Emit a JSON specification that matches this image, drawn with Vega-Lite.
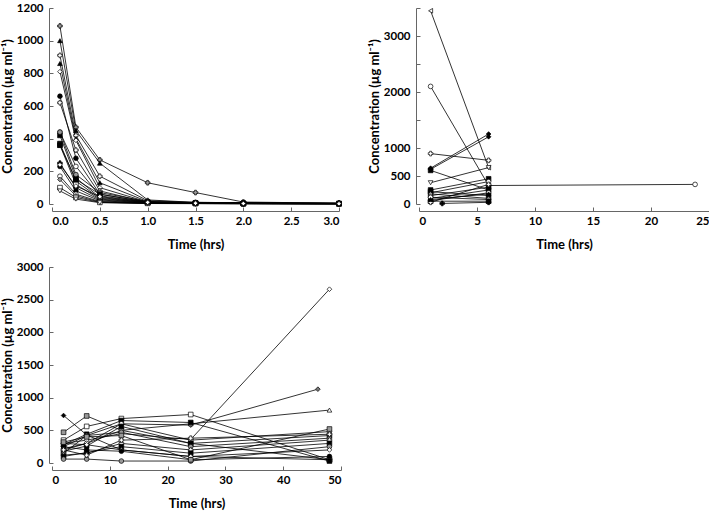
{
  "$schema": "https://vega.github.io/schema/vega-lite/v6.json",
  "padding": {"left": 1, "top": 2, "right": 2, "bottom": 1},
  "spacing": 9,
  "resolve": {"scale": {"shape": "independent", "fill": "independent"}},
  "config": {
    "font": "Lato",
    "view": {"stroke": null},
    "axis": {
      "grid": false,
      "labelFont": "Lato",
      "labelFontWeight": "bold",
      "labelFontSize": 11.5,
      "labelColor": "black",
      "titleFont": "Lato",
      "titleFontWeight": "bold",
      "titleFontSize": 13,
      "titleColor": "black",
      "domainColor": "#666",
      "tickColor": "#666",
      "tickSize": -4,
      "format": "d"
    },
    "axisX": {"titlePadding": 12, "labelPadding": 8},
    "axisY": {"titlePadding": 2, "labelPadding": 10}
  },
  "datasets": {
    "p1": [
      {"id":"S01","t":0.083,"c":1090},{"id":"S01","t":0.25,"c":470},{"id":"S01","t":0.5,"c":270},{"id":"S01","t":1,"c":130},{"id":"S01","t":1.5,"c":70},{"id":"S01","t":2,"c":12},{"id":"S01","t":3,"c":5},
      {"id":"S02","t":0.083,"c":1000},{"id":"S02","t":0.25,"c":450},{"id":"S02","t":0.5,"c":250},{"id":"S02","t":1,"c":25},{"id":"S02","t":1.5,"c":10},{"id":"S02","t":2,"c":8},{"id":"S02","t":3,"c":5},
      {"id":"S03","t":0.083,"c":910},{"id":"S03","t":0.25,"c":420},{"id":"S03","t":0.5,"c":170},{"id":"S03","t":1,"c":20},{"id":"S03","t":1.5,"c":10},{"id":"S03","t":2,"c":8},{"id":"S03","t":3,"c":5},
      {"id":"S04","t":0.083,"c":860},{"id":"S04","t":0.25,"c":400},{"id":"S04","t":0.5,"c":130},{"id":"S04","t":1,"c":15},{"id":"S04","t":1.5,"c":8},{"id":"S04","t":2,"c":5},{"id":"S04","t":3,"c":4},
      {"id":"S05","t":0.083,"c":810},{"id":"S05","t":0.25,"c":390},{"id":"S05","t":0.5,"c":100},{"id":"S05","t":1,"c":12},{"id":"S05","t":1.5,"c":8},{"id":"S05","t":2,"c":5},{"id":"S05","t":3,"c":3},
      {"id":"S06","t":0.083,"c":660},{"id":"S06","t":0.25,"c":280},{"id":"S06","t":0.5,"c":60},{"id":"S06","t":1,"c":10},{"id":"S06","t":1.5,"c":6},{"id":"S06","t":2,"c":4},{"id":"S06","t":3,"c":3},
      {"id":"S07","t":0.083,"c":620},{"id":"S07","t":0.25,"c":330},{"id":"S07","t":0.5,"c":80},{"id":"S07","t":1,"c":10},{"id":"S07","t":1.5,"c":6},{"id":"S07","t":2,"c":4},{"id":"S07","t":3,"c":3},
      {"id":"S08","t":0.083,"c":440},{"id":"S08","t":0.25,"c":230},{"id":"S08","t":0.5,"c":50},{"id":"S08","t":1,"c":10},{"id":"S08","t":1.5,"c":5},{"id":"S08","t":2,"c":4},{"id":"S08","t":3,"c":3},
      {"id":"S09","t":0.083,"c":420},{"id":"S09","t":0.25,"c":160},{"id":"S09","t":0.5,"c":40},{"id":"S09","t":1,"c":8},{"id":"S09","t":1.5,"c":5},{"id":"S09","t":2,"c":3},{"id":"S09","t":3,"c":2},
      {"id":"S10","t":0.083,"c":370},{"id":"S10","t":0.25,"c":140},{"id":"S10","t":0.5,"c":35},{"id":"S10","t":1,"c":8},{"id":"S10","t":1.5,"c":5},{"id":"S10","t":2,"c":3},{"id":"S10","t":3,"c":2},
      {"id":"S11","t":0.083,"c":360},{"id":"S11","t":0.25,"c":120},{"id":"S11","t":0.5,"c":30},{"id":"S11","t":1,"c":7},{"id":"S11","t":1.5,"c":4},{"id":"S11","t":2,"c":3},{"id":"S11","t":3,"c":2},
      {"id":"S12","t":0.083,"c":250},{"id":"S12","t":0.25,"c":100},{"id":"S12","t":0.5,"c":25},{"id":"S12","t":1,"c":6},{"id":"S12","t":1.5,"c":4},{"id":"S12","t":2,"c":3},{"id":"S12","t":3,"c":2},
      {"id":"S13","t":0.083,"c":230},{"id":"S13","t":0.25,"c":80},{"id":"S13","t":0.5,"c":20},{"id":"S13","t":1,"c":5},{"id":"S13","t":1.5,"c":4},{"id":"S13","t":2,"c":3},{"id":"S13","t":3,"c":2},
      {"id":"S14","t":0.083,"c":170},{"id":"S14","t":0.25,"c":60},{"id":"S14","t":0.5,"c":15},{"id":"S14","t":1,"c":5},{"id":"S14","t":1.5,"c":3},{"id":"S14","t":2,"c":2},{"id":"S14","t":3,"c":2},
      {"id":"S15","t":0.083,"c":150},{"id":"S15","t":0.25,"c":50},{"id":"S15","t":0.5,"c":12},{"id":"S15","t":1,"c":4},{"id":"S15","t":1.5,"c":3},{"id":"S15","t":2,"c":2},{"id":"S15","t":3,"c":1},
      {"id":"S16","t":0.083,"c":100},{"id":"S16","t":0.25,"c":40},{"id":"S16","t":0.5,"c":10},{"id":"S16","t":1,"c":4},{"id":"S16","t":1.5,"c":3},{"id":"S16","t":2,"c":2},{"id":"S16","t":3,"c":1},
      {"id":"S17","t":0.083,"c":80},{"id":"S17","t":0.25,"c":30},{"id":"S17","t":0.5,"c":8},{"id":"S17","t":1,"c":3},{"id":"S17","t":1.5,"c":2},{"id":"S17","t":2,"c":2},{"id":"S17","t":3,"c":1},
      {"id":"S18","t":0.083,"c":440},{"id":"S18","t":0.25,"c":180},{"id":"S18","t":0.5,"c":70},{"id":"S18","t":1,"c":15},{"id":"S18","t":1.5,"c":8},{"id":"S18","t":2,"c":5},{"id":"S18","t":3,"c":3},
      {"id":"S19","t":0.083,"c":360},{"id":"S19","t":0.25,"c":150},{"id":"S19","t":0.5,"c":60},{"id":"S19","t":1,"c":12},{"id":"S19","t":1.5,"c":6},{"id":"S19","t":2,"c":4},{"id":"S19","t":3,"c":2},
      {"id":"S20","t":0.083,"c":240},{"id":"S20","t":0.25,"c":110},{"id":"S20","t":0.5,"c":45},{"id":"S20","t":1,"c":10},{"id":"S20","t":1.5,"c":5},{"id":"S20","t":2,"c":3},{"id":"S20","t":3,"c":2}
    ],
    "p2": [
      {"id":"A","t":1,"c":3450},{"id":"A","t":6,"c":650},
      {"id":"B","t":1,"c":2100},{"id":"B","t":6,"c":330},{"id":"B","t":23.8,"c":350},
      {"id":"C","t":1,"c":640},{"id":"C","t":6,"c":1250},
      {"id":"D","t":1,"c":620},{"id":"D","t":6,"c":1200},
      {"id":"E","t":1,"c":900},{"id":"E","t":6,"c":780},
      {"id":"F","t":1,"c":600},{"id":"F","t":6,"c":250},
      {"id":"G","t":1,"c":380},{"id":"G","t":6,"c":650},
      {"id":"H","t":1,"c":250},{"id":"H","t":6,"c":450},
      {"id":"I","t":1,"c":200},{"id":"I","t":6,"c":400},
      {"id":"J","t":1,"c":150},{"id":"J","t":6,"c":300},
      {"id":"K","t":1,"c":100},{"id":"K","t":6,"c":250},
      {"id":"L","t":1,"c":60},{"id":"L","t":6,"c":200},
      {"id":"M","t":1,"c":220},{"id":"M","t":6,"c":150},
      {"id":"N","t":1,"c":180},{"id":"N","t":6,"c":100},
      {"id":"O","t":1,"c":120},{"id":"O","t":6,"c":80},
      {"id":"P","t":1,"c":50},{"id":"P","t":6,"c":50},
      {"id":"Q","t":1,"c":30},{"id":"Q","t":6,"c":350},
      {"id":"R","t":1,"c":80},{"id":"R","t":6,"c":180},
      {"id":"S","t":2,"c":10},{"id":"S","t":6,"c":30}
    ],
    "p3": [
      {"id":"T01","t":2,"c":727},{"id":"T01","t":6,"c":430},{"id":"T01","t":12,"c":200},{"id":"T01","t":24,"c":100},{"id":"T01","t":48,"c":50},
      {"id":"T02","t":2,"c":300},{"id":"T02","t":6,"c":350},{"id":"T02","t":12,"c":450},{"id":"T02","t":24,"c":360},{"id":"T02","t":48,"c":2660},
      {"id":"T03","t":2,"c":250},{"id":"T03","t":6,"c":420},{"id":"T03","t":12,"c":600},{"id":"T03","t":24,"c":580},{"id":"T03","t":46,"c":1130},
      {"id":"T04","t":2,"c":200},{"id":"T04","t":6,"c":300},{"id":"T04","t":12,"c":500},{"id":"T04","t":24,"c":600},{"id":"T04","t":48,"c":810},
      {"id":"T05","t":2,"c":470},{"id":"T05","t":6,"c":720},{"id":"T05","t":12,"c":500},{"id":"T05","t":24,"c":300},{"id":"T05","t":48,"c":50},
      {"id":"T06","t":2,"c":350},{"id":"T06","t":6,"c":560},{"id":"T06","t":12,"c":680},{"id":"T06","t":24,"c":742},{"id":"T06","t":48,"c":50},
      {"id":"T07","t":2,"c":280},{"id":"T07","t":6,"c":440},{"id":"T07","t":12,"c":650},{"id":"T07","t":24,"c":620},{"id":"T07","t":48,"c":30},
      {"id":"T08","t":2,"c":220},{"id":"T08","t":6,"c":300},{"id":"T08","t":12,"c":600},{"id":"T08","t":24,"c":350},{"id":"T08","t":48,"c":480},
      {"id":"T09","t":2,"c":180},{"id":"T09","t":6,"c":260},{"id":"T09","t":12,"c":560},{"id":"T09","t":24,"c":300},{"id":"T09","t":48,"c":420},
      {"id":"T10","t":2,"c":150},{"id":"T10","t":6,"c":420},{"id":"T10","t":12,"c":470},{"id":"T10","t":24,"c":250},{"id":"T10","t":48,"c":380},
      {"id":"T11","t":2,"c":120},{"id":"T11","t":6,"c":150},{"id":"T11","t":12,"c":300},{"id":"T11","t":24,"c":200},{"id":"T11","t":48,"c":350},
      {"id":"T12","t":2,"c":100},{"id":"T12","t":6,"c":160},{"id":"T12","t":12,"c":250},{"id":"T12","t":24,"c":150},{"id":"T12","t":48,"c":300},
      {"id":"T13","t":2,"c":60},{"id":"T13","t":6,"c":60},{"id":"T13","t":12,"c":30},{"id":"T13","t":24,"c":30},{"id":"T13","t":48,"c":250},
      {"id":"T14","t":2,"c":300},{"id":"T14","t":6,"c":280},{"id":"T14","t":12,"c":200},{"id":"T14","t":24,"c":100},{"id":"T14","t":48,"c":200},
      {"id":"T15","t":2,"c":250},{"id":"T15","t":6,"c":200},{"id":"T15","t":12,"c":180},{"id":"T15","t":24,"c":50},{"id":"T15","t":48,"c":100},
      {"id":"T16","t":2,"c":320},{"id":"T16","t":6,"c":400},{"id":"T16","t":12,"c":420},{"id":"T16","t":24,"c":50},{"id":"T16","t":48,"c":520},
      {"id":"T17","t":2,"c":200},{"id":"T17","t":6,"c":120},{"id":"T17","t":12,"c":350},{"id":"T17","t":24,"c":380},{"id":"T17","t":48,"c":440}
    ]
  },
  "vconcat": [
    {
      "hconcat": [
        {
          "width": 287, "height": 196,
          "data": {"name": "p1"},
          "encoding": {
            "x": {"field": "t", "type": "quantitative", "scale": {"domain": [0, 3], "nice": false}, "axis": {"title": "Time (hrs)", "values": [0, 0.5, 1, 1.5, 2, 2.5, 3], "format": ".1f", "offset": 7}},
            "y": {"field": "c", "type": "quantitative", "scale": {"domain": [0, 1200], "nice": false}, "axis": {"title": "Concentration (µg ml⁻¹)", "values": [0, 200, 400, 600, 800, 1000, 1200], "offset": 3}}
          },
          "layer": [
            {"mark": {"type": "line", "color": "black", "strokeWidth": 0.8}, "encoding": {"detail": {"field": "id"}}},
            {"mark": {"type": "point", "filled": true, "stroke": "black", "strokeWidth": 0.7, "size": 22, "opacity": 1},
             "encoding": {
               "shape": {"field": "id", "type": "nominal", "legend": null, "scale": {"range": ["cross", "triangle-up", "cross", "triangle-up", "diamond", "circle", "cross", "circle", "square", "square", "square", "cross", "circle", "circle", "diamond", "square", "triangle-down", "circle", "square", "diamond"]}},
               "fill": {"field": "id", "type": "nominal", "legend": null, "scale": {"range": ["#999", "black", "white", "black", "white", "black", "white", "white", "black", "black", "white", "black", "black", "white", "#999", "white", "white", "#999", "black", "white"]}}
             }}
          ]
        },
        {
          "width": 290, "height": 196,
          "data": {"name": "p2"},
          "encoding": {
            "x": {"field": "t", "type": "quantitative", "scale": {"domain": [0, 25], "nice": false}, "axis": {"title": "Time (hrs)", "values": [0, 5, 10, 15, 20, 25], "offset": 7}},
            "y": {"field": "c", "type": "quantitative", "scale": {"domain": [0, 3500], "nice": false}, "axis": {"title": "Concentration (µg ml⁻¹)", "values": [0, 500, 1000, 1500, 2000, 2500, 3000, 3500], "labelExpr": "datum.value == 1500 || datum.value == 2500 || datum.value == 3500 ? '' : datum.label", "offset": 3}}
          },
          "layer": [
            {"mark": {"type": "line", "color": "black", "strokeWidth": 0.8}, "encoding": {"detail": {"field": "id"}}},
            {"mark": {"type": "point", "filled": true, "stroke": "black", "strokeWidth": 0.7, "size": 22, "opacity": 1},
             "encoding": {
               "shape": {"field": "id", "type": "nominal", "legend": null, "scale": {"range": ["triangle-left", "circle", "diamond", "diamond", "cross", "square", "triangle-down", "square", "circle", "square", "triangle-up", "circle", "square", "diamond", "circle", "square", "cross", "triangle-up", "cross"]}},
               "fill": {"field": "id", "type": "nominal", "legend": null, "scale": {"range": ["white", "white", "black", "black", "white", "black", "white", "black", "white", "black", "black", "white", "black", "#999", "white", "black", "white", "black", "black"]}}
             }}
          ]
        }
      ],
      "spacing": 25,
      "resolve": {"scale": {"shape": "independent", "fill": "independent"}}
    },
    {
      "width": 289, "height": 196,
      "data": {"name": "p3"},
      "encoding": {
        "x": {"field": "t", "type": "quantitative", "scale": {"domain": [0, 50], "nice": false}, "axis": {"title": "Time (hrs)", "values": [0, 10, 20, 30, 40, 50], "offset": 7}},
        "y": {"field": "c", "type": "quantitative", "scale": {"domain": [0, 3000], "nice": false}, "axis": {"title": "Concentration (µg ml⁻¹)", "values": [0, 500, 1000, 1500, 2000, 2500, 3000], "offset": 3}}
      },
      "layer": [
        {"mark": {"type": "line", "color": "black", "strokeWidth": 0.8}, "encoding": {"detail": {"field": "id"}}},
        {"mark": {"type": "point", "filled": true, "stroke": "black", "strokeWidth": 0.7, "size": 22, "opacity": 1},
         "encoding": {
           "shape": {"field": "id", "type": "nominal", "legend": null, "scale": {"range": ["diamond", "diamond", "diamond", "triangle-up", "square", "square", "square", "circle", "square", "circle", "cross", "square", "circle", "diamond", "circle", "square", "cross"]}},
           "fill": {"field": "id", "type": "nominal", "legend": null, "scale": {"range": ["black", "white", "#777", "white", "#999", "white", "black", "white", "black", "#999", "white", "black", "#999", "white", "black", "#999", "white"]}}
         }}
      ]
    }
  ]
}
